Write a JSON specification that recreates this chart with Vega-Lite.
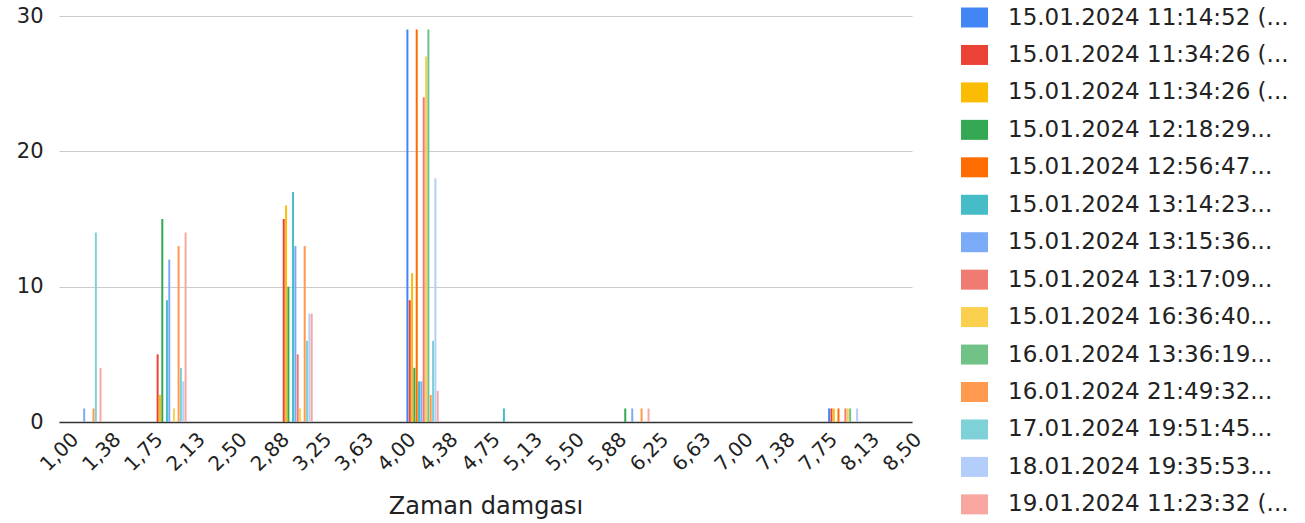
{
  "$schema": "https://vega.github.io/schema/vega-lite/v6.json",
  "width": 853,
  "height": 406,
  "autosize": "none",
  "padding": {"left": 59, "top": 16, "right": 393, "bottom": 101},
  "config": {"view": {"stroke": null}, "font": "DejaVu Sans"},
  "datasets": {
    "bars": [
      {"x": 1.19, "series": "07|15.01.2024 13:15:36...", "count": 1},
      {"x": 1.19, "series": "11|16.01.2024 21:49:32...", "count": 1},
      {"x": 1.19, "series": "12|17.01.2024 19:51:45...", "count": 14},
      {"x": 1.19, "series": "14|19.01.2024 11:23:32 (...", "count": 4},

      {"x": 1.947, "series": "02|15.01.2024 11:34:26 (...", "count": 5},
      {"x": 1.947, "series": "03|15.01.2024 11:34:26 (...", "count": 2},
      {"x": 1.947, "series": "04|15.01.2024 12:18:29...", "count": 15},
      {"x": 1.947, "series": "06|15.01.2024 13:14:23...", "count": 9},
      {"x": 1.947, "series": "07|15.01.2024 13:15:36...", "count": 12},
      {"x": 1.947, "series": "09|15.01.2024 16:36:40...", "count": 1},
      {"x": 1.947, "series": "11|16.01.2024 21:49:32...", "count": 13},
      {"x": 1.947, "series": "12|17.01.2024 19:51:45...", "count": 4},
      {"x": 1.947, "series": "13|18.01.2024 19:35:53...", "count": 3},
      {"x": 1.947, "series": "14|19.01.2024 11:23:32 (...", "count": 14},

      {"x": 3.069, "series": "02|15.01.2024 11:34:26 (...", "count": 15},
      {"x": 3.069, "series": "03|15.01.2024 11:34:26 (...", "count": 16},
      {"x": 3.069, "series": "04|15.01.2024 12:18:29...", "count": 10},
      {"x": 3.069, "series": "06|15.01.2024 13:14:23...", "count": 17},
      {"x": 3.069, "series": "07|15.01.2024 13:15:36...", "count": 13},
      {"x": 3.069, "series": "08|15.01.2024 13:17:09...", "count": 5},
      {"x": 3.069, "series": "09|15.01.2024 16:36:40...", "count": 1},
      {"x": 3.069, "series": "11|16.01.2024 21:49:32...", "count": 13},
      {"x": 3.069, "series": "12|17.01.2024 19:51:45...", "count": 6},
      {"x": 3.069, "series": "13|18.01.2024 19:35:53...", "count": 8},
      {"x": 3.069, "series": "14|19.01.2024 11:23:32 (...", "count": 8},

      {"x": 4.19, "series": "01|15.01.2024 11:14:52 (...", "count": 29},
      {"x": 4.19, "series": "02|15.01.2024 11:34:26 (...", "count": 9},
      {"x": 4.19, "series": "03|15.01.2024 11:34:26 (...", "count": 11},
      {"x": 4.19, "series": "04|15.01.2024 12:18:29...", "count": 4},
      {"x": 4.19, "series": "05|15.01.2024 12:56:47...", "count": 29},
      {"x": 4.19, "series": "06|15.01.2024 13:14:23...", "count": 3},
      {"x": 4.19, "series": "07|15.01.2024 13:15:36...", "count": 3},
      {"x": 4.19, "series": "08|15.01.2024 13:17:09...", "count": 24},
      {"x": 4.19, "series": "09|15.01.2024 16:36:40...", "count": 27},
      {"x": 4.19, "series": "10|16.01.2024 13:36:19...", "count": 29},
      {"x": 4.19, "series": "11|16.01.2024 21:49:32...", "count": 2},
      {"x": 4.19, "series": "12|17.01.2024 19:51:45...", "count": 6},
      {"x": 4.19, "series": "13|18.01.2024 19:35:53...", "count": 18},
      {"x": 4.19, "series": "14|19.01.2024 11:23:32 (...", "count": 2.3},

      {"x": 4.945, "series": "06|15.01.2024 13:14:23...", "count": 1},

      {"x": 6.066, "series": "04|15.01.2024 12:18:29...", "count": 1},
      {"x": 6.066, "series": "07|15.01.2024 13:15:36...", "count": 1},
      {"x": 6.066, "series": "11|16.01.2024 21:49:32...", "count": 1},
      {"x": 6.066, "series": "14|19.01.2024 11:23:32 (...", "count": 1},

      {"x": 7.942, "series": "01|15.01.2024 11:14:52 (...", "count": 1},
      {"x": 7.942, "series": "02|15.01.2024 11:34:26 (...", "count": 1},
      {"x": 7.942, "series": "03|15.01.2024 11:34:26 (...", "count": 1},
      {"x": 7.942, "series": "05|15.01.2024 12:56:47...", "count": 1},
      {"x": 7.942, "series": "08|15.01.2024 13:17:09...", "count": 1},
      {"x": 7.942, "series": "09|15.01.2024 16:36:40...", "count": 1},
      {"x": 7.942, "series": "10|16.01.2024 13:36:19...", "count": 1},
      {"x": 7.942, "series": "13|18.01.2024 19:35:53...", "count": 1}
    ]
  },
  "data": {"name": "bars"},
  "encoding": {
    "x": {
      "field": "x",
      "type": "quantitative",
      "scale": {"domain": [1, 8.5], "nice": false, "zero": false},
      "axis": {
        "title": "Zaman damgası",
        "titleFontSize": 24,
        "titleFontWeight": "normal",
        "titleColor": "#222",
        "titleY": 91,
        "titleBaseline": "alphabetic",
        "grid": false,
        "ticks": false,
        "tickSize": 0,
        "domainColor": "#333",
        "domainWidth": 1.5,
        "values": [1, 1.375, 1.75, 2.125, 2.5, 2.875, 3.25, 3.625, 4, 4.375, 4.75, 5.125, 5.5, 5.875, 6.25, 6.625, 7, 7.375, 7.75, 8.125, 8.5],
        "labelExpr": "replace(format(datum.value, '.2f'), '.', ',')",
        "labelAngle": -45,
        "labelAlign": "right",
        "labelBaseline": "middle",
        "labelOffset": 11,
        "labelPadding": 14,
        "labelFontSize": 20,
        "labelColor": "#222",
        "labelOverlap": false,
        "labelFlush": false,
        "labelBound": false
      }
    },
    "y": {
      "field": "count",
      "type": "quantitative",
      "stack": null,
      "scale": {"domain": [0, 30], "nice": false},
      "axis": {
        "title": null,
        "values": [0, 10, 20, 30],
        "domain": false,
        "ticks": false,
        "tickSize": 0,
        "labelPadding": 16,
        "labelFontSize": 21,
        "labelColor": "#222",
        "gridColor": "#cccccc",
        "gridWidth": 1
      }
    },
    "color": {
      "field": "series",
      "type": "nominal",
      "scale": {
        "range": ["#4285f4", "#ea4335", "#fbbc04", "#34a853", "#ff6d01", "#46bdc6", "#7baaf7", "#f07b72", "#fcd04f", "#71c287", "#ff994d", "#7ed1d7", "#b3cefb", "#f7a7a0"]
      },
      "legend": {
        "title": null,
        "orient": "none",
        "legendX": 904,
        "legendY": -10,
        "symbolType": "M-1.35,-1H1.35V1H-1.35Z",
        "symbolSize": 400,
        "symbolStrokeWidth": 0,
        "symbolOpacity": 1,
        "labelFontSize": 23,
        "labelColor": "#222",
        "labelOffset": 22,
        "labelLimit": 0,
        "rowPadding": 13.45,
        "labelExpr": "slice(datum.label, 3)"
      }
    }
  },
  "layer": [
    {"transform": [{"filter": "slice(datum.series, 0, 2) == '01'"}], "mark": {"type": "bar", "width": 2, "xOffset": -15.15}},
    {"transform": [{"filter": "slice(datum.series, 0, 2) == '02'"}], "mark": {"type": "bar", "width": 2, "xOffset": -12.82}},
    {"transform": [{"filter": "slice(datum.series, 0, 2) == '03'"}], "mark": {"type": "bar", "width": 2, "xOffset": -10.49}},
    {"transform": [{"filter": "slice(datum.series, 0, 2) == '04'"}], "mark": {"type": "bar", "width": 2, "xOffset": -8.16}},
    {"transform": [{"filter": "slice(datum.series, 0, 2) == '05'"}], "mark": {"type": "bar", "width": 2, "xOffset": -5.83}},
    {"transform": [{"filter": "slice(datum.series, 0, 2) == '06'"}], "mark": {"type": "bar", "width": 2, "xOffset": -3.5}},
    {"transform": [{"filter": "slice(datum.series, 0, 2) == '07'"}], "mark": {"type": "bar", "width": 2, "xOffset": -1.17}},
    {"transform": [{"filter": "slice(datum.series, 0, 2) == '08'"}], "mark": {"type": "bar", "width": 2, "xOffset": 1.17}},
    {"transform": [{"filter": "slice(datum.series, 0, 2) == '09'"}], "mark": {"type": "bar", "width": 2, "xOffset": 3.5}},
    {"transform": [{"filter": "slice(datum.series, 0, 2) == '10'"}], "mark": {"type": "bar", "width": 2, "xOffset": 5.83}},
    {"transform": [{"filter": "slice(datum.series, 0, 2) == '11'"}], "mark": {"type": "bar", "width": 2, "xOffset": 8.16}},
    {"transform": [{"filter": "slice(datum.series, 0, 2) == '12'"}], "mark": {"type": "bar", "width": 2, "xOffset": 10.49}},
    {"transform": [{"filter": "slice(datum.series, 0, 2) == '13'"}], "mark": {"type": "bar", "width": 2, "xOffset": 12.82}},
    {"transform": [{"filter": "slice(datum.series, 0, 2) == '14'"}], "mark": {"type": "bar", "width": 2, "xOffset": 15.15}}
  ]
}
